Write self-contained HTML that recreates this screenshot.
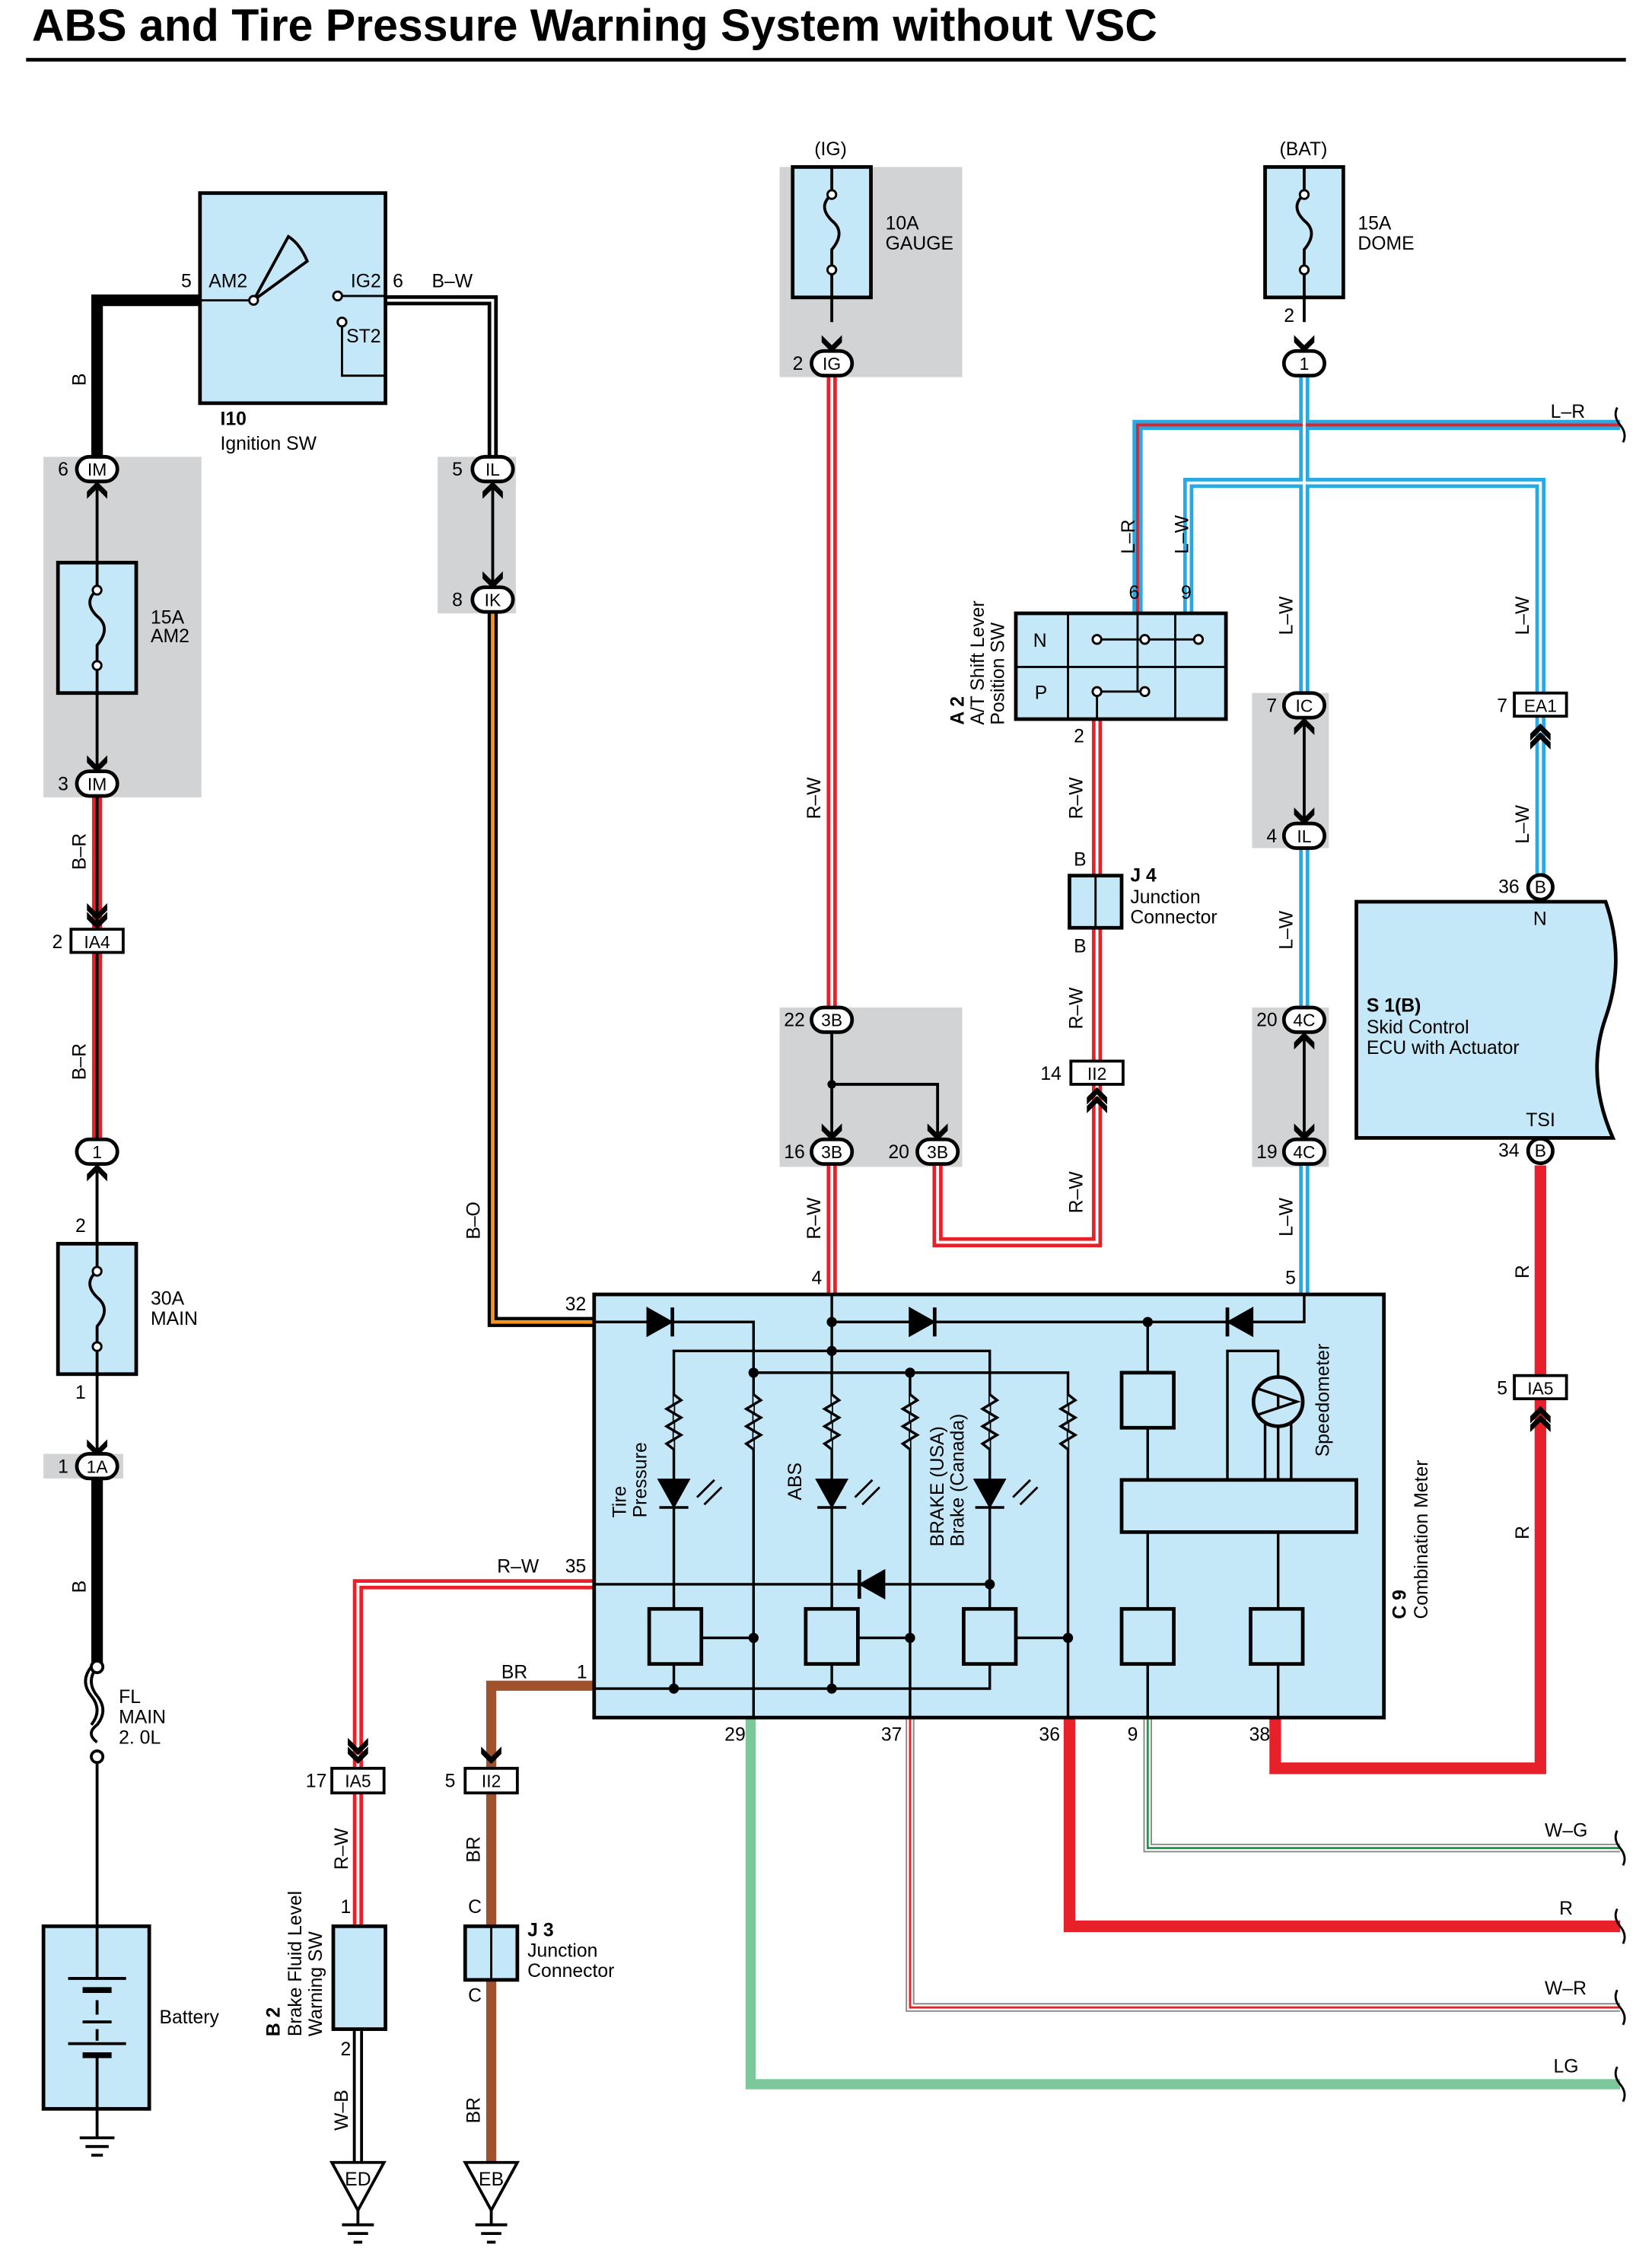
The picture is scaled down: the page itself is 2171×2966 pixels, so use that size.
<!DOCTYPE html>
<html><head><meta charset="utf-8"><style>html,body{margin:0;padding:0;background:#fff}svg{display:block}</style></head><body>
<svg xmlns="http://www.w3.org/2000/svg" width="2171" height="2966" viewBox="0 0 1140 1557" font-family="Liberation Sans, sans-serif">
<defs>
<g id="chevD"><path d="M-7,-7 L0,0 L7,-7 L7,-2 L0,5 L-7,-2Z" fill="#000"/></g>
<g id="chevU"><path d="M-7,7 L0,0 L7,7 L7,2 L0,-5 L-7,2Z" fill="#000"/></g>
</defs>
<rect width="1140" height="1557" fill="#fff"/>
<text x="22" y="28" font-size="31" font-weight="bold">ABS and Tire Pressure Warning System without VSC</text>
<line x1="18" y1="41" x2="1122" y2="41" stroke="#000" stroke-width="2.5"/>

<g fill="#d1d3d4">
<rect x="30" y="315" width="109" height="235"/>
<rect x="302" y="315" width="54" height="108"/>
<rect x="538" y="115" width="126" height="145"/>
<rect x="538" y="695" width="126" height="110"/>
<rect x="864" y="478" width="53" height="107"/>
<rect x="864" y="695" width="53" height="110"/>
<rect x="30" y="1003" width="55" height="17"/>
</g>

<g fill="none" stroke-linejoin="miter">
<polyline points="137,207 67,207 67,318" stroke="#000" stroke-width="8"/>
<line x1="67" y1="330" x2="67" y2="535" stroke="#000" stroke-width="2"/>
<polyline points="67,548 67,786" stroke="#e8202a" stroke-width="7"/>
<polyline points="67,548 67,786" stroke="#000" stroke-width="2"/>
<line x1="67" y1="802" x2="67" y2="1005" stroke="#000" stroke-width="2"/>
<line x1="67" y1="1018" x2="67" y2="1150" stroke="#000" stroke-width="8"/>
<line x1="67" y1="1212" x2="67" y2="1330" stroke="#000" stroke-width="2"/>
<polyline points="266,207 340,207 340,318" stroke="#000" stroke-width="7"/>
<polyline points="266,207 340,207 340,318" stroke="#fff" stroke-width="2"/>
<line x1="340" y1="330" x2="340" y2="405" stroke="#000" stroke-width="2"/>
<polyline points="340,421 340,912 410,912" stroke="#000" stroke-width="7"/>
<polyline points="340,421 340,912 410,912" stroke="#f7941d" stroke-width="2.5"/>
<g stroke="#e8202a" stroke-width="7">
<line x1="574" y1="258" x2="574" y2="695"/>
<line x1="574" y1="804" x2="574" y2="893"/>
<polyline points="647,804 647,857 757,857 757,748"/>
<line x1="757" y1="732" x2="757" y2="640"/>
<line x1="757" y1="604" x2="757" y2="497"/>
<polyline points="410,1093 247,1093 247,1220"/>
<line x1="247" y1="1237" x2="247" y2="1329"/>
</g>
<g stroke="#fff" stroke-width="2">
<line x1="574" y1="258" x2="574" y2="695"/>
<line x1="574" y1="804" x2="574" y2="893"/>
<polyline points="647,804 647,857 757,857 757,748"/>
<line x1="757" y1="732" x2="757" y2="640"/>
<line x1="757" y1="604" x2="757" y2="497"/>
<polyline points="410,1093 247,1093 247,1220"/>
<line x1="247" y1="1237" x2="247" y2="1329"/>
</g>
<g stroke="#27aae1" stroke-width="7">
<polyline points="785,423 785,293 1118,293"/>
<polyline points="820,423 820,333 1063,333 1063,478"/>
<line x1="900" y1="258" x2="900" y2="478"/>
<line x1="900" y1="585" x2="900" y2="695"/>
<line x1="900" y1="804" x2="900" y2="893"/>
<line x1="1063" y1="494" x2="1063" y2="604"/>
</g>
<polyline points="785,423 785,293 1118,293" stroke="#e8202a" stroke-width="2"/>
<g stroke="#fff" stroke-width="2">
<polyline points="820,423 820,333 1063,333 1063,478"/>
<line x1="900" y1="258" x2="900" y2="478"/>
<line x1="900" y1="585" x2="900" y2="695"/>
<line x1="900" y1="804" x2="900" y2="893"/>
<line x1="1063" y1="494" x2="1063" y2="604"/>
</g>
<line x1="900" y1="494" x2="900" y2="568" stroke="#000" stroke-width="2"/>
<line x1="900" y1="711" x2="900" y2="786" stroke="#000" stroke-width="2"/>
<polyline points="574,711 574,786" stroke="#000" stroke-width="2"/>
<polyline points="574,748 647,748 647,786" stroke="#000" stroke-width="2"/>
<g stroke="#e8202a" stroke-width="8">
<line x1="1063" y1="804" x2="1063" y2="949"/>
<polyline points="1063,965 1063,1220 880,1220 880,1185"/>
<polyline points="738,1185 738,1329 1118,1329"/>
</g>
<g stroke="#a0522d" stroke-width="7">
<polyline points="410,1163 339,1163 339,1220"/>
<line x1="339" y1="1237" x2="339" y2="1329"/>
<line x1="339" y1="1366" x2="339" y2="1492"/>
</g>
<line x1="247" y1="1400" x2="247" y2="1492" stroke="#000" stroke-width="7"/>
<line x1="247" y1="1400" x2="247" y2="1492" stroke="#fff" stroke-width="3"/>
<polyline points="518,1185 518,1438 1118,1438" stroke="#7dc89a" stroke-width="7"/>
<polyline points="628,1185 628,1385 1118,1385" stroke="#888" stroke-width="6"/>
<polyline points="628,1185 628,1385 1118,1385" stroke="#fff" stroke-width="4"/>
<polyline points="628,1185 628,1385 1118,1385" stroke="#e8202a" stroke-width="1.5"/>
<polyline points="792,1185 792,1275 1118,1275" stroke="#888" stroke-width="6"/>
<polyline points="792,1185 792,1275 1118,1275" stroke="#fff" stroke-width="4"/>
<polyline points="792,1185 792,1275 1118,1275" stroke="#1a9a4a" stroke-width="1.5"/>
</g>
<g fill="none" stroke="#000" stroke-width="1.5">
<path d="M1116,281 q-3,6 2,12 q5,6 2,12"/>
<path d="M1116,1263 q-3,6 2,12 q5,6 2,12"/>
<path d="M1116,1317 q-3,6 2,12 q5,6 2,12"/>
<path d="M1116,1373 q-3,6 2,12 q5,6 2,12"/>
<path d="M1116,1426 q-3,6 2,12 q5,6 2,12"/>
</g>

<rect x="138" y="133" width="128" height="145" fill="#c5e8f8" stroke="#000" stroke-width="2.5"/>
<line x1="138" y1="207" x2="175" y2="207" stroke="#000" stroke-width="1.5"/>
<line x1="233" y1="204" x2="266" y2="204" stroke="#000" stroke-width="1.5"/>
<polyline points="233,222 236,222 236,259 266,259" fill="none" stroke="#000" stroke-width="1.5"/>
<path d="M175,207 L199,163 Q207,168 212,180 Z" fill="none" stroke="#000" stroke-width="2"/>
<circle cx="175" cy="207" r="3" fill="#fff" stroke="#000" stroke-width="1.5"/>
<circle cx="233" cy="204" r="3" fill="#fff" stroke="#000" stroke-width="1.5"/>
<circle cx="236" cy="222" r="3" fill="#fff" stroke="#000" stroke-width="1.5"/>
<g font-size="13">
<text x="125" y="198">5</text><text x="144" y="198">AM2</text><text x="242" y="198">IG2</text><text x="271" y="198">6</text><text x="298" y="198">B–W</text><text x="239" y="236">ST2</text>
<text x="152" y="293" font-weight="bold">I10</text><text x="152" y="310">Ignition SW</text>
</g>

<g fill="#c5e8f8" stroke="#000" stroke-width="2.5">
<rect x="40" y="388" width="54" height="90"/>
<rect x="40" y="858" width="54" height="90"/>
<rect x="547" y="115" width="54" height="90"/>
<rect x="873" y="115" width="54" height="90"/>
</g>
<g fill="none" stroke="#000" stroke-width="2">
<path d="M67,388 V407 M67,459 V478 M67,407 q-10,8 0,18 q10,8 0,20 v14"/>
<path d="M67,858 V877 M67,929 V948 M67,877 q-10,8 0,18 q10,8 0,20 v14"/>
<path d="M574,115 V134 M574,186 V222 M574,134 q-10,8 0,18 q10,8 0,20 v14"/>
<path d="M900,115 V134 M900,186 V222 M900,134 q-10,8 0,18 q10,8 0,20 v14"/>
<line x1="67" y1="802" x2="67" y2="858"/>
</g>
<g fill="#fff" stroke="#000" stroke-width="1.5">
<circle cx="67" cy="407" r="3"/><circle cx="67" cy="459" r="3"/>
<circle cx="67" cy="877" r="3"/><circle cx="67" cy="929" r="3"/>
<circle cx="574" cy="134" r="3"/><circle cx="574" cy="186" r="3"/>
<circle cx="900" cy="134" r="3"/><circle cx="900" cy="186" r="3"/>
</g>

<use href="#chevU" x="67" y="337"/><use href="#chevD" x="67" y="528"/>
<use href="#chevD" x="67" y="636"/><use href="#chevU" x="67" y="808"/>
<use href="#chevD" x="67" y="1000"/>
<use href="#chevU" x="340" y="337"/><use href="#chevD" x="340" y="401"/>
<use href="#chevD" x="574" y="238"/><use href="#chevD" x="900" y="238"/>
<use href="#chevD" x="574" y="782"/><use href="#chevD" x="647" y="782"/>
<use href="#chevU" x="900" y="500"/><use href="#chevD" x="900" y="564"/>
<use href="#chevU" x="900" y="717"/><use href="#chevD" x="900" y="782"/>
<use href="#chevU" x="1063" y="504"/><use href="#chevU" x="1063" y="510"/>
<use href="#chevU" x="757" y="755"/><use href="#chevU" x="757" y="761"/>
<use href="#chevU" x="1063" y="975"/><use href="#chevU" x="1063" y="981"/>
<use href="#chevD" x="67" y="630"/>
<use href="#chevD" x="247" y="1206"/><use href="#chevD" x="247" y="1212"/>
<use href="#chevD" x="339" y="1212"/>

<g fill="#fff" stroke="#000" stroke-width="2.5">
<rect x="53" y="315" width="28" height="17" rx="8.5"/>
<rect x="53" y="532" width="28" height="17" rx="8.5"/>
<rect x="53" y="786" width="28" height="17" rx="8.5"/>
<rect x="53" y="1003" width="28" height="17" rx="8.5"/>
<rect x="326" y="315" width="28" height="17" rx="8.5"/>
<rect x="326" y="405" width="28" height="17" rx="8.5"/>
<rect x="560" y="242" width="28" height="17" rx="8.5"/>
<rect x="886" y="242" width="28" height="17" rx="8.5"/>
<rect x="560" y="695" width="28" height="17" rx="8.5"/>
<rect x="560" y="786" width="28" height="17" rx="8.5"/>
<rect x="633" y="786" width="28" height="17" rx="8.5"/>
<rect x="886" y="478" width="28" height="17" rx="8.5"/>
<rect x="886" y="568" width="28" height="17" rx="8.5"/>
<rect x="886" y="695" width="28" height="17" rx="8.5"/>
<rect x="886" y="786" width="28" height="17" rx="8.5"/>
<circle cx="1063" cy="612" r="8.5"/>
<circle cx="1063" cy="794" r="8.5"/>
</g>
<g fill="#fff" stroke="#000" stroke-width="2">
<rect x="49" y="641" width="36" height="16"/>
<rect x="1045" y="478" width="36" height="16"/>
<rect x="739" y="732" width="36" height="16"/>
<rect x="1045" y="949" width="36" height="16"/>
<rect x="229" y="1220" width="36" height="17"/>
<rect x="321" y="1220" width="36" height="17"/>
</g>

<!-- A2 switch -->
<rect x="701" y="423" width="145" height="73" fill="#c5e8f8" stroke="#000" stroke-width="2.5"/>
<g stroke="#000" stroke-width="1.5" fill="none">
<line x1="701" y1="460" x2="846" y2="460"/>
<line x1="737" y1="423" x2="737" y2="496"/>
<line x1="811" y1="423" x2="811" y2="496"/>
<line x1="757" y1="441" x2="827" y2="441"/>
<line x1="757" y1="477" x2="790" y2="477"/>
<line x1="785" y1="423" x2="785" y2="477"/>
<line x1="757" y1="477" x2="757" y2="496"/>
</g>
<g fill="#fff" stroke="#000" stroke-width="1.5">
<circle cx="757" cy="441" r="3"/><circle cx="790" cy="441" r="3"/><circle cx="827" cy="441" r="3"/>
<circle cx="757" cy="477" r="3"/><circle cx="790" cy="477" r="3"/>
</g>
<text x="713" y="446" font-size="13">N</text><text x="714" y="482" font-size="13">P</text>

<rect x="738" y="604" width="36" height="36" fill="#c5e8f8" stroke="#000" stroke-width="2.5"/>
<line x1="756" y1="604" x2="756" y2="640" stroke="#000" stroke-width="1.5"/>
<rect x="321" y="1329" width="36" height="37" fill="#c5e8f8" stroke="#000" stroke-width="2.5"/>
<line x1="339" y1="1329" x2="339" y2="1366" stroke="#000" stroke-width="1.5"/>
<rect x="230" y="1329" width="36" height="71" fill="#c5e8f8" stroke="#000" stroke-width="2.5"/>

<path d="M936,622 H1108 q14,40 0,80 q-14,40 5,83 H936 Z" fill="#c5e8f8" stroke="#000" stroke-width="2.5"/>

<g fill="none" stroke="#000" stroke-width="2">
<path d="M67,1150 q-8,10 0,20 q8,10 0,20 q-8,6 0,12"/>
<path d="M63,1150 q-8,10 0,20 q8,10 0,20"/>
</g>
<circle cx="67" cy="1150" r="4" fill="#fff" stroke="#000" stroke-width="2"/>
<circle cx="67" cy="1212" r="4" fill="#fff" stroke="#000" stroke-width="2"/>

<rect x="30" y="1329" width="73" height="126" fill="#c5e8f8" stroke="#000" stroke-width="2.5"/>
<g stroke="#000">
<line x1="67" y1="1329" x2="67" y2="1365" stroke-width="2"/>
<line x1="47" y1="1365" x2="87" y2="1365" stroke-width="2"/>
<line x1="57" y1="1373" x2="77" y2="1373" stroke-width="4"/>
<line x1="67" y1="1380" x2="67" y2="1390" stroke-width="2"/>
<line x1="57" y1="1395" x2="77" y2="1395" stroke-width="2"/>
<line x1="67" y1="1400" x2="67" y2="1408" stroke-width="2"/>
<line x1="47" y1="1410" x2="87" y2="1410" stroke-width="2"/>
<line x1="57" y1="1418" x2="77" y2="1418" stroke-width="4"/>
<line x1="67" y1="1418" x2="67" y2="1475" stroke-width="2"/>
<line x1="55" y1="1475" x2="79" y2="1475" stroke-width="2"/>
<line x1="59" y1="1481" x2="75" y2="1481" stroke-width="2"/>
<line x1="63" y1="1487" x2="71" y2="1487" stroke-width="2"/>
</g>
<g stroke="#000" stroke-width="2" fill="#fff">
<path d="M229,1492 H265 L247,1525 Z"/>
<path d="M321,1492 H357 L339,1525 Z"/>
<line x1="247" y1="1525" x2="247" y2="1535"/><line x1="236" y1="1535" x2="258" y2="1535"/><line x1="240" y1="1541" x2="254" y2="1541"/><line x1="244" y1="1547" x2="250" y2="1547"/>
<line x1="339" y1="1525" x2="339" y2="1535"/><line x1="328" y1="1535" x2="350" y2="1535"/><line x1="332" y1="1541" x2="346" y2="1541"/><line x1="336" y1="1547" x2="342" y2="1547"/>
</g>
<text x="247" y="1508" font-size="13" text-anchor="middle">ED</text>
<text x="339" y="1508" font-size="13" text-anchor="middle">EB</text>

<!-- Combination meter -->
<rect x="410" y="893" width="545" height="292" fill="#c5e8f8" stroke="#000" stroke-width="2.5"/>
<g stroke="#000" stroke-width="1.8" fill="none">
<polyline points="410,912 520,912 520,1185"/>
<polyline points="574,893 574,1110"/>
<line x1="574" y1="912" x2="855" y2="912"/>
<polyline points="855,912 900,912 900,893"/>
<polyline points="465,1110 465,932 683,932 683,1110"/>
<polyline points="520,947 737,947 737,1185"/>
<line x1="628" y1="947" x2="628" y2="1185"/>
<line x1="792" y1="912" x2="792" y2="947"/>
<line x1="792" y1="985" x2="792" y2="1021"/>
<line x1="792" y1="1057" x2="792" y2="1185"/>
<polyline points="847,1021 847,932 882,932 882,950"/>
<line x1="882" y1="1057" x2="882" y2="1185"/>
<line x1="873" y1="980" x2="873" y2="1021"/><line x1="882" y1="984" x2="882" y2="1021"/><line x1="891" y1="980" x2="891" y2="1021"/>
<polyline points="410,1093 683,1093"/>
<polyline points="410,1165 683,1165 683,1148"/>
<line x1="465" y1="1148" x2="465" y2="1165"/>
<line x1="574" y1="1148" x2="574" y2="1165"/>
<line x1="484" y1="1130" x2="520" y2="1130"/>
<line x1="592" y1="1130" x2="628" y2="1130"/>
<line x1="701" y1="1130" x2="737" y2="1130"/>
</g>
<g stroke="#000" stroke-width="1.8" fill="#c5e8f8">
<path d="M465,962 l5,4 l-10,6 l10,6 l-10,6 l10,6 l-10,6 l5,4"/>
<path d="M520,962 l5,4 l-10,6 l10,6 l-10,6 l10,6 l-10,6 l5,4"/>
<path d="M574,962 l5,4 l-10,6 l10,6 l-10,6 l10,6 l-10,6 l5,4"/>
<path d="M628,962 l5,4 l-10,6 l10,6 l-10,6 l10,6 l-10,6 l5,4"/>
<path d="M683,962 l5,4 l-10,6 l10,6 l-10,6 l10,6 l-10,6 l5,4"/>
<path d="M737,962 l5,4 l-10,6 l10,6 l-10,6 l10,6 l-10,6 l5,4"/>
</g>
<g fill="#000" stroke="#000" stroke-width="1.8">
<path d="M455,1021 H475 L465,1039 Z"/><line x1="455" y1="1040" x2="475" y2="1040"/>
<path d="M564,1021 H584 L574,1039 Z"/><line x1="564" y1="1040" x2="584" y2="1040"/>
<path d="M673,1021 H693 L683,1039 Z"/><line x1="673" y1="1040" x2="693" y2="1040"/>
<path d="M481,1033 l12,-12 M486,1038 l12,-12 M590,1033 l12,-12 M595,1038 l12,-12 M699,1033 l12,-12 M704,1038 l12,-12" stroke-width="1.5"/>
<path d="M447,903 L463,912 L447,921 Z"/><line x1="464" y1="902" x2="464" y2="922" stroke-width="2.5"/>
<path d="M628,903 L644,912 L628,921 Z"/><line x1="645" y1="902" x2="645" y2="922" stroke-width="2.5"/>
<path d="M864,903 L848,912 L864,921 Z"/><line x1="847" y1="902" x2="847" y2="922" stroke-width="2.5"/>
<path d="M610,1084 L594,1093 L610,1102 Z"/><line x1="593" y1="1083" x2="593" y2="1103" stroke-width="2.5"/>
</g>
<g fill="#000">
<circle cx="574" cy="912" r="3.5"/><circle cx="792" cy="912" r="3.5"/><circle cx="574" cy="932" r="3.5"/>
<circle cx="520" cy="947" r="3.5"/><circle cx="628" cy="947" r="3.5"/><circle cx="683" cy="1093" r="3.5"/>
<circle cx="520" cy="1130" r="3.5"/><circle cx="628" cy="1130" r="3.5"/><circle cx="737" cy="1130" r="3.5"/>
<circle cx="465" cy="1165" r="3.5"/><circle cx="574" cy="1165" r="3.5"/><circle cx="574" cy="748" r="3"/>
</g>
<g fill="#c5e8f8" stroke="#000" stroke-width="2.5">
<rect x="448" y="1110" width="36" height="38"/>
<rect x="556" y="1110" width="36" height="38"/>
<rect x="665" y="1110" width="36" height="38"/>
<rect x="774" y="1110" width="36" height="38"/>
<rect x="863" y="1110" width="36" height="38"/>
<rect x="774" y="947" width="36" height="38"/>
<rect x="774" y="1021" width="162" height="36"/>
</g>
<circle cx="882" cy="967" r="17" fill="#c5e8f8" stroke="#000" stroke-width="2.5"/>
<path d="M868,958 L895,967 L868,976 M882,962 L882,972" fill="none" stroke="#000" stroke-width="1.8"/>

<!-- all text on top -->
<g font-size="12" text-anchor="middle">
<text x="67" y="328">IM</text><text x="67" y="545">IM</text><text x="67" y="799">1</text><text x="67" y="1016">1A</text>
<text x="340" y="328">IL</text><text x="340" y="418">IK</text>
<text x="574" y="255">IG</text><text x="900" y="255">1</text>
<text x="574" y="708">3B</text><text x="574" y="799">3B</text><text x="647" y="799">3B</text>
<text x="900" y="491">IC</text><text x="900" y="581">IL</text><text x="900" y="708">4C</text><text x="900" y="799">4C</text>
<text x="1063" y="616">B</text><text x="1063" y="798">B</text>
<text x="67" y="654">IA4</text><text x="1063" y="491">EA1</text><text x="757" y="745">II2</text>
<text x="1063" y="962">IA5</text><text x="247" y="1233">IA5</text><text x="339" y="1233">II2</text>
</g>
<g font-size="13">
<text x="104" y="430">15A</text><text x="104" y="443">AM2</text>
<text x="104" y="900">30A</text><text x="104" y="914">MAIN</text>
<text x="611" y="158">10A</text><text x="611" y="172">GAUGE</text>
<text x="937" y="158">15A</text><text x="937" y="172">DOME</text>
<text x="562" y="107">(IG)</text><text x="883" y="107">(BAT)</text>
<text x="52" y="850">2</text><text x="52" y="965">1</text>
<text x="886" y="222">2</text>
<text x="40" y="328">6</text><text x="40" y="545">3</text><text x="36" y="654">2</text><text x="40" y="1016">1</text>
<text x="312" y="328">5</text><text x="312" y="418">8</text><text x="547" y="255">2</text>
<text x="541" y="708">22</text><text x="541" y="799">16</text><text x="613" y="799">20</text>
<text x="874" y="491">7</text><text x="874" y="581">4</text><text x="867" y="708">20</text><text x="867" y="799">19</text>
<text x="1033" y="491">7</text><text x="1034" y="616">36</text><text x="1034" y="798">34</text><text x="1033" y="962">5</text>
<text x="718" y="745">14</text><text x="211" y="1233">17</text><text x="307" y="1233">5</text>
<text x="560" y="886">4</text><text x="887" y="886">5</text><text x="390" y="904">32</text>
<text x="390" y="1085">35</text><text x="398" y="1158">1</text><text x="343" y="1085">R–W</text><text x="346" y="1158">BR</text>
<text x="500" y="1201">29</text><text x="608" y="1201">37</text><text x="717" y="1201">36</text><text x="778" y="1201">9</text><text x="862" y="1201">38</text>
<text x="1070" y="288">L–R</text>
<text x="1066" y="1267">W–G</text><text x="1076" y="1321">R</text><text x="1066" y="1376">W–R</text><text x="1072" y="1430">LG</text>
<text x="779" y="413">6</text><text x="815" y="413">9</text><text x="741" y="512">2</text>
<text x="741" y="597">B</text><text x="741" y="657">B</text>
<text x="780" y="608" font-weight="bold">J 4</text><text x="780" y="623">Junction</text><text x="780" y="637">Connector</text>
<text x="1058" y="638">N</text><text x="1053" y="777">TSI</text>
<text x="943" y="698" font-weight="bold">S 1(B)</text><text x="943" y="713">Skid Control</text><text x="943" y="727">ECU with Actuator</text>
<text x="82" y="1175">FL</text><text x="82" y="1189">MAIN</text><text x="82" y="1203">2. 0L</text>
<text x="110" y="1396">Battery</text>
<text x="235" y="1320">1</text><text x="235" y="1418">2</text>
<text x="323" y="1320">C</text><text x="323" y="1381">C</text>
<text x="364" y="1336" font-weight="bold">J 3</text><text x="364" y="1350">Junction</text><text x="364" y="1364">Connector</text>
</g>
<g font-size="13">
<text transform="translate(59,266) rotate(-90)">B</text>
<text transform="translate(59,600) rotate(-90)">B–R</text>
<text transform="translate(59,745) rotate(-90)">B–R</text>
<text transform="translate(59,1099) rotate(-90)">B</text>
<text transform="translate(331,855) rotate(-90)">B–O</text>
<text transform="translate(566,565) rotate(-90)">R–W</text>
<text transform="translate(566,855) rotate(-90)">R–W</text>
<text transform="translate(747,565) rotate(-90)">R–W</text>
<text transform="translate(747,710) rotate(-90)">R–W</text>
<text transform="translate(747,837) rotate(-90)">R–W</text>
<text transform="translate(783,382) rotate(-90)">L–R</text>
<text transform="translate(820,382) rotate(-90)">L–W</text>
<text transform="translate(892,438) rotate(-90)">L–W</text>
<text transform="translate(892,655) rotate(-90)">L–W</text>
<text transform="translate(892,853) rotate(-90)">L–W</text>
<text transform="translate(1055,438) rotate(-90)">L–W</text>
<text transform="translate(1055,582) rotate(-90)">L–W</text>
<text transform="translate(1055,882) rotate(-90)">R</text>
<text transform="translate(1055,1062) rotate(-90)">R</text>
<text transform="translate(240,1290) rotate(-90)">R–W</text>
<text transform="translate(240,1470) rotate(-90)">W–B</text>
<text transform="translate(331,1285) rotate(-90)">BR</text>
<text transform="translate(331,1465) rotate(-90)">BR</text>
<text transform="translate(665,500) rotate(-90)" font-weight="bold">A 2</text>
<text transform="translate(679,500) rotate(-90)">A/T Shift Lever</text>
<text transform="translate(693,500) rotate(-90)">Position SW</text>
<text transform="translate(193,1405) rotate(-90)" font-weight="bold">B 2</text>
<text transform="translate(208,1405) rotate(-90)">Brake Fluid Level</text>
<text transform="translate(222,1405) rotate(-90)">Warning SW</text>
<text transform="translate(970,1117) rotate(-90)" font-weight="bold">C 9</text>
<text transform="translate(985,1117) rotate(-90)">Combination Meter</text>
<text transform="translate(432,1047) rotate(-90)">Tire</text>
<text transform="translate(446,1047) rotate(-90)">Pressure</text>
<text transform="translate(553,1035) rotate(-90)">ABS</text>
<text transform="translate(651,1067) rotate(-90)">BRAKE (USA)</text>
<text transform="translate(665,1067) rotate(-90)">Brake (Canada)</text>
<text transform="translate(917,1005) rotate(-90)">Speedometer</text>
</g>
</svg>
</body></html>
